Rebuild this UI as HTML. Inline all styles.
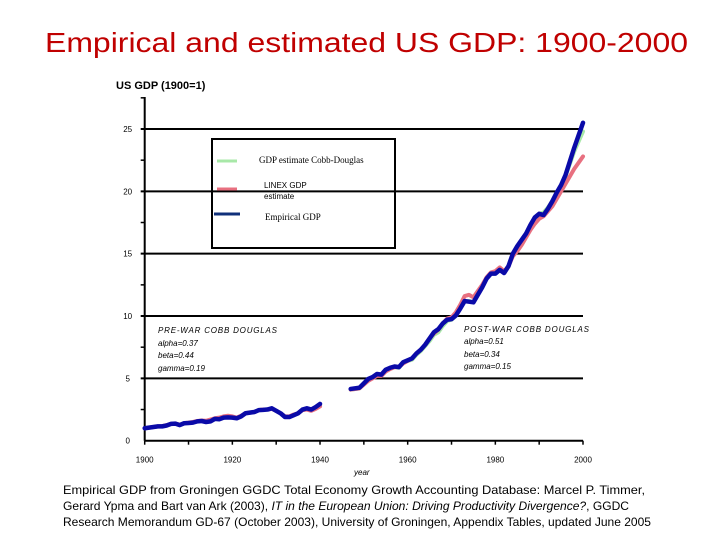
<!DOCTYPE html>
<html><head><meta charset="utf-8"><style>
html,body{margin:0;padding:0;background:#fff;}
svg{display:block;font-family:"Liberation Sans",sans-serif;}
</style></head><body>
<svg id="chart" width="720" height="540" viewBox="0 0 720 540">
<text x="45" y="52" font-size="28" fill="#c00000" textLength="643" lengthAdjust="spacingAndGlyphs">Empirical and estimated US GDP: 1900-2000</text>
<text x="116" y="89" font-size="11" font-weight="bold" fill="#000">US GDP (1900=1)</text>
<g id="axes"></g>
<g id="series"></g>
<g>
<rect x="212" y="139" width="183" height="109" fill="none" stroke="#000" stroke-width="2"/>
<line x1="217" y1="161" x2="237" y2="161" stroke="#a8e8a8" stroke-width="3"/>
<text x="259" y="163" font-family="Liberation Serif,serif" font-size="9">GDP estimate Cobb-Douglas</text>
<line x1="217" y1="189" x2="237" y2="189" stroke="#e87080" stroke-width="3"/>
<text x="264" y="188" font-size="8">LINEX GDP</text>
<text x="264" y="199" font-size="8">estimate</text>
<line x1="214" y1="214" x2="240" y2="214" stroke="#10307a" stroke-width="3"/>
<text x="265" y="220" font-family="Liberation Serif,serif" font-size="9">Empirical GDP</text>
</g>
<g font-size="8" font-style="italic">
<text x="158" y="333" textLength="119" lengthAdjust="spacing">PRE-WAR COBB DOUGLAS</text>
<text x="158" y="346">alpha=0.37</text>
<text x="158" y="358">beta=0.44</text>
<text x="158" y="371">gamma=0.19</text>
</g>
<g font-size="8" font-style="italic">
<text x="464" y="332" textLength="125" lengthAdjust="spacing">POST-WAR COBB DOUGLAS</text>
<text x="464" y="344">alpha=0.51</text>
<text x="464" y="357">beta=0.34</text>
<text x="464" y="369">gamma=0.15</text>
</g>
<text x="354" y="475" font-size="8" font-style="italic">year</text>
<g font-size="11.6" fill="#000">
<text x="63" y="494" textLength="582" lengthAdjust="spacingAndGlyphs">Empirical GDP from Groningen GGDC Total Economy Growth Accounting Database:  Marcel P. Timmer,</text>
<text x="63" y="510" textLength="566" lengthAdjust="spacingAndGlyphs">Gerard Ypma and Bart van Ark (2003), <tspan font-style="italic">IT in the European Union: Driving Productivity Divergence?</tspan>, GGDC</text>
<text x="63" y="526" textLength="588" lengthAdjust="spacingAndGlyphs">Research Memorandum GD-67 (October 2003), University of Groningen, Appendix Tables, updated June 2005</text>
</g>
</svg>
<script>
const yearsPre = [1900,1901,1902,1903,1904,1905,1906,1907,1908,1909,1910,1911,1912,1913,1914,1915,1916,1917,1918,1919,1920,1921,1922,1923,1924,1925,1926,1927,1928,1929,1930,1931,1932,1933,1934,1935,1936,1937,1938,1939,1940];
const empiricalPre = [1.0,1.05,1.1,1.15,1.15,1.22,1.35,1.37,1.25,1.4,1.42,1.45,1.55,1.58,1.5,1.55,1.75,1.72,1.85,1.87,1.85,1.8,1.95,2.2,2.25,2.3,2.45,2.47,2.5,2.6,2.4,2.2,1.9,1.9,2.05,2.2,2.5,2.6,2.5,2.7,2.95];
const linexPre = [1.0,1.05,1.1,1.15,1.17,1.25,1.35,1.37,1.28,1.4,1.45,1.5,1.58,1.62,1.6,1.7,1.8,1.85,1.95,2.0,1.95,1.85,2.0,2.2,2.25,2.3,2.45,2.5,2.5,2.55,2.4,2.2,1.95,1.95,2.1,2.2,2.45,2.5,2.4,2.55,2.75];
const cobbPre = [1.0,1.05,1.1,1.15,1.16,1.23,1.35,1.37,1.27,1.4,1.43,1.48,1.56,1.6,1.55,1.62,1.77,1.8,1.9,1.92,1.9,1.82,1.97,2.2,2.25,2.3,2.45,2.48,2.5,2.58,2.4,2.2,1.92,1.92,2.07,2.2,2.47,2.55,2.45,2.6,2.85];
const yearsPost = [1947,1948,1949,1950,1951,1952,1953,1954,1955,1956,1957,1958,1959,1960,1961,1962,1963,1964,1965,1966,1967,1968,1969,1970,1971,1972,1973,1974,1975,1976,1977,1978,1979,1980,1981,1982,1983,1984,1985,1986,1987,1988,1989,1990,1991,1992,1993,1994,1995,1996,1997,1998,1999,2000];
const empiricalPost = [4.15,4.2,4.25,4.6,4.95,5.1,5.35,5.3,5.7,5.85,5.95,5.9,6.3,6.45,6.6,7.0,7.3,7.7,8.2,8.7,8.95,9.4,9.7,9.75,10.05,10.6,11.2,11.15,11.1,11.7,12.3,13.0,13.4,13.4,13.7,13.45,14.0,15.0,15.6,16.1,16.6,17.3,17.9,18.2,18.1,18.6,19.2,19.9,20.5,21.3,22.4,23.5,24.5,25.5];
const linexPost = [4.1,4.15,4.2,4.5,4.8,5.0,5.2,5.2,5.55,5.75,5.9,5.9,6.2,6.4,6.6,7.0,7.3,7.7,8.2,8.6,8.9,9.4,9.8,9.9,10.3,10.9,11.6,11.7,11.5,12.0,12.5,13.1,13.5,13.6,13.9,13.6,14.0,14.8,15.2,15.7,16.3,16.9,17.4,17.8,18.0,18.4,18.8,19.4,20.0,20.6,21.2,21.8,22.3,22.8];
const cobbPost = [4.1,4.15,4.2,4.55,4.9,5.05,5.3,5.25,5.65,5.8,5.9,5.85,6.25,6.4,6.5,6.9,7.2,7.6,8.0,8.5,8.7,9.2,9.6,9.7,10.0,10.6,11.2,11.2,11.1,11.7,12.3,13.0,13.4,13.4,13.7,13.5,14.0,15.0,15.6,16.1,16.6,17.3,17.8,18.2,18.3,18.7,19.2,19.9,20.5,21.2,22.2,23.2,24.0,24.8];
const yTicks = [0,5,10,15,20,25];
const xTicks = [1900,1920,1940,1960,1980,2000];

const NS = "http://www.w3.org/2000/svg";
const X0 = 144.7, X1 = 583, Y0 = 440.7, Y25 = 129;
const xs = y => X0 + (y - 1900) * (X1 - X0) / 100;
const ys = v => Y0 - v * (Y0 - Y25) / 25;
function mk(tag, attrs, parent) {
  const e = document.createElementNS(NS, tag);
  for (const k in attrs) e.setAttribute(k, attrs[k]);
  parent.appendChild(e);
  return e;
}
const axes = document.getElementById('axes');
const ser = document.getElementById('series');
let l = mk('line', {x1: X0, y1: 97, x2: X0, y2: Y0, stroke: '#000', 'stroke-width': 2}, axes);


l = mk('line', {x1: X0, y1: Y0, x2: X1, y2: Y0, stroke: '#000', 'stroke-width': 2}, axes);


for (let v = 2.5; v <= 27.5; v += 5) {
  mk('line', {x1: X0 - 4, y1: ys(v), x2: X0, y2: ys(v), stroke: '#000', 'stroke-width': 1.5}, axes);
}
yTicks.forEach(v => {
  if (v > 0) {
    const g = mk('line', {x1: X0 - 4, y1: ys(v), x2: X1, y2: ys(v), stroke: '#000', 'stroke-width': 2}, axes);
    
    
  }
  const t = mk('text', {x: X0 - 17, y: ys(v) + 3, 'font-size': 8, 'text-anchor': 'middle'}, axes);
  t.textContent = v;
  
  
});
for (let y = 1900; y <= 2000; y += 10) {
  mk('line', {x1: xs(y), y1: Y0, x2: xs(y), y2: Y0 + 4, stroke: '#000', 'stroke-width': 1.5}, axes);
}
xTicks.forEach(y => {
  const t = mk('text', {x: xs(y), y: Y0 + 22, 'font-size': 8, 'text-anchor': 'middle'}, axes);
  t.textContent = y;
  
  
});
function line(years, vals, color, w, name) {
  const p = mk('polyline', {points: years.map((y, i) => xs(y) + ',' + ys(vals[i])).join(' '), fill: 'none', stroke: color, 'stroke-width': w, 'stroke-linejoin': 'round', 'stroke-linecap': 'round'}, ser);
  
  
}
line(yearsPre, cobbPre, '#a8e8a8', 4, 'cobb-douglas-line-prewar');
line(yearsPost, cobbPost, '#a8e8a8', 4, 'cobb-douglas-line-postwar');
line(yearsPre, linexPre, '#e87080', 4, 'linex-line-prewar');
line(yearsPost, linexPost, '#e87080', 4, 'linex-line-postwar');
line(yearsPre, empiricalPre, '#0a0aa8', 4.5, 'empirical-line-prewar');
line(yearsPost, empiricalPost, '#0a0aa8', 4.5, 'empirical-line-postwar');
</script>
</body></html>
